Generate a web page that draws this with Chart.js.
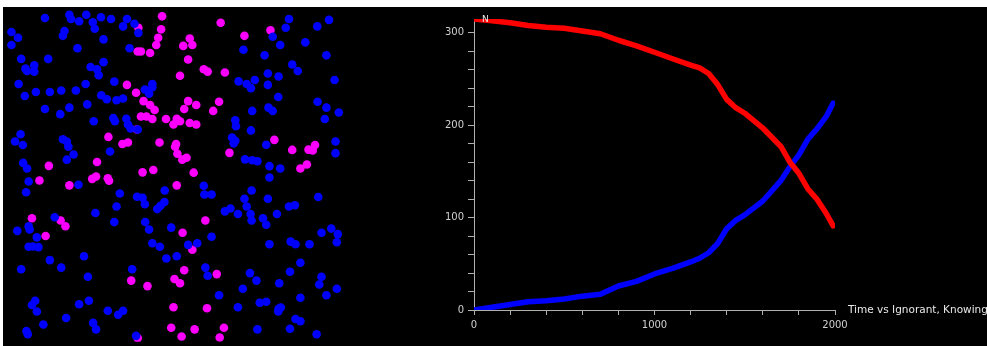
<!DOCTYPE html>
<html lang="en">
<head>
<meta charset="UTF-8">
<title>Rumour spread - Ignorant vs Knowing</title>
<script src="https://cdn.jsdelivr.net/npm/chart.js"></script>
<style>
  html, body { margin: 0; padding: 0; background: #000; overflow: hidden; }
  body { width: 987px; height: 346px; position: relative; }
  #topStrip { position: absolute; left: 0; top: 0; width: 987px; height: 7px; background: #fff; z-index: 5; }
  #leftStrip { position: absolute; left: 0; top: 0; width: 3px; height: 346px; background: #fff; z-index: 5; }
  #dotsWrap { position: absolute; left: 0; top: 0; width: 360px; height: 346px; }
  #lineWrap { position: absolute; left: 400px; top: 7px; width: 587px; height: 339px; }
</style>
</head>
<body>
<div id="topStrip"></div>
<div id="leftStrip"></div>
<div id="dotsWrap"><canvas id="chartDots"></canvas></div>
<div id="lineWrap"><canvas id="chartLines"></canvas></div>

<script>
// time series: counts of ignorant / knowing people
const times    = [0, 100, 200, 300, 400, 500, 600, 700, 800, 900, 1000, 1100, 1200, 1250, 1300, 1350, 1400, 1450, 1500, 1600, 1700, 1750, 1800, 1850, 1900, 1950, 1990];
const ignorant = [315, 313, 311, 308, 306, 305, 302, 299, 292, 286, 279, 272, 265, 262, 256, 244, 228, 219, 213, 197, 177, 160, 148, 131, 120, 105, 91];
const knowing  = [0, 3, 6, 9, 10, 12, 15, 17, 26, 31, 39, 45, 52, 56, 62, 72, 88, 97, 103, 118, 140, 155, 168, 185, 196, 209, 224];

// snapshot of the population (world units, y downwards)
const knowingDots = [
  [125,42],[200,32],[205,45],[230,52],[252,32],[272,55],[297,40],[328,45],[377,45],[365,68],[278,75],[400,60],[185,82],[180,97],
  [22,85],[42,103],[22,125],[305,108],[225,135],[385,135],[412,88],[875,45],[998,48],[962,68],[865,72],[825,100],[848,125],
  [925,117],[735,140],[800,157],[990,157],
  [52,168],[135,168],[65,198],[70,205],[92,188],[92,207],[265,193],[285,200],[290,218],[305,178],[885,185],[902,205],[810,213],
  [843,222],[720,237],[745,245],[770,233],[758,258],[1015,233],[44,245],[250,245],[338,238],[455,245],
  [63,282],[97,270],[140,270],[175,265],[220,265],[298,280],[315,292],[345,295],[365,290],[432,262],[445,275],[455,255],
  [810,248],[842,285],[963,300],[990,318],[1028,333],[125,322],[172,338],[200,318],[255,308],[762,328],[812,318],[825,328],
  [275,360],[335,350],[340,360],[375,352],[985,353],[710,357],
  [380,370],[388,382],[410,385],[712,375],[700,410],[710,420],[705,428],[758,388],[33,422],[50,400],[57,433],[180,415],
  [192,422],[197,438],[213,462],[192,478],[325,453],[805,432],[1018,422],[1018,458],[740,477],[762,480],[778,483],
  [58,488],[70,505],[75,545],[67,578],[228,555],[355,582],[408,592],[425,595],[493,573],[613,558],[615,585],[637,585],
  [815,498],[848,505],[815,533],[760,573],[738,598],[810,598],[965,593],
  [432,615],[470,630],[480,620],[492,608],[345,622],[280,642],[155,655],[338,670],[433,670],[445,693],[513,687],[678,637],
  [695,628],[718,645],[745,622],[757,645],[760,665],[795,658],[805,678],[838,645],[875,622],[893,618],[40,697],[75,683],
  [78,693],[100,717],[637,715],[975,703],[1005,690],[1025,707],[1022,732],
  [75,746],[88,745],[105,747],[455,735],[478,746],[565,740],[593,735],[498,782],[530,775],[245,775],[140,787],[52,815],
  [175,810],[257,838],[393,815],[618,810],[625,835],[815,738],[880,730],[895,738],[938,738],[910,795],[878,823],[755,827],
  [733,875],[775,850],[845,858],[975,838],[968,862],[1022,875],[990,895],
  [660,895],[718,932],[785,918],[805,915],[843,937],[850,933],[910,903],[842,945],[895,968],[910,975],[960,1015],[878,998],
  [778,1000],[95,912],[85,925],[100,945],[120,985],[190,965],[230,923],[260,912],[318,943],[350,955],[365,943],[273,980],
  [282,1000],[68,1005],[72,1015],[405,1020]
];
const ignorantDots = [
  [485,37],[665,57],[412,72],[482,77],[473,103],[738,97],[818,80],[467,125],[550,128],[570,105],[578,125],[410,145],[420,145],
  [448,150],[565,170],
  [540,220],[613,200],[625,207],[678,210],[377,248],
  [405,272],[428,298],[448,310],[462,325],[565,298],[590,310],[660,300],[553,322],[642,328],[420,345],[437,345],[455,353],
  [497,353],[520,370],[530,352],[540,360],[570,365],[590,370],
  [408,385],[320,408],[363,430],[380,425],[477,425],[525,438],[528,430],[532,460],[547,478],[560,472],[692,457],[830,417],
  [885,448],[935,447],[948,450],[955,433],
  [137,497],[108,542],[200,557],[285,485],[270,537],[282,530],[318,535],[322,543],[425,517],[458,510],[530,557],[582,518],
  [910,505],[930,493],
  [85,658],[173,665],[188,683],[127,713],[618,665],[548,703],
  [578,755],[553,818],[653,830],[390,850],[440,867],[523,845],[540,858],
  [520,932],[623,935],[513,995],[545,1022],[585,1000],[675,995],[662,1025],[410,1027]
];

const FONT = 'DejaVu Sans, Verdana, sans-serif';

// population snapshot
new Chart(document.getElementById('chartDots'), {
  type: 'scatter',
  data: {
    datasets: [
      { label: 'Knowing', data: knowingDots.map(p => ({ x: p[0], y: p[1] })), backgroundColor: '#0000ff', borderWidth: 0, pointRadius: 4.3 },
      { label: 'Ignorant', data: ignorantDots.map(p => ({ x: p[0], y: p[1] })), backgroundColor: '#ff00ff', borderWidth: 0, pointRadius: 4.3 }
    ]
  },
  options: {
    responsive: true, maintainAspectRatio: false, animation: false,
    layout: { padding: 0 },
    plugins: { legend: { display: false }, tooltip: { enabled: false } },
    scales: {
      x: { display: false, min: 0, max: 1080 },
      y: { display: false, min: 0, max: 1038, reverse: true }
    }
  }
});

// axis captions drawn next to the plot
const captions = {
  id: 'captions',
  afterDraw(chart) {
    const { ctx, chartArea } = chart;
    ctx.save();
    ctx.fillStyle = '#e8e8e8';
    ctx.font = '9px ' + FONT;
    ctx.textBaseline = 'middle';
    ctx.fillText('N', chartArea.left + 8, chartArea.top + 1);
    ctx.font = '10.5px ' + FONT;
    ctx.fillText('Time vs Ignorant, Knowing', chartArea.right + 13, chartArea.bottom);
    ctx.restore();
  }
};

const keepSteps = step => scale => { scale.ticks = scale.ticks.filter(t => t.value % step === 0); };

new Chart(document.getElementById('chartLines'), {
  type: 'line',
  data: {
    datasets: [
      { label: 'Ignorant', data: times.map((t, i) => ({ x: t, y: ignorant[i] })), borderColor: '#ff0000', borderWidth: 5.5,
        pointRadius: 0, borderCapStyle: 'round', borderJoinStyle: 'round', fill: false },
      { label: 'Knowing', data: times.map((t, i) => ({ x: t, y: knowing[i] })), borderColor: '#0000ff', borderWidth: 5.5,
        pointRadius: 0, borderCapStyle: 'round', borderJoinStyle: 'round', fill: false }
    ]
  },
  options: {
    responsive: true, maintainAspectRatio: false, animation: false,
    layout: { padding: { top: 12, right: 152, left: 0, bottom: 0 } },
    plugins: { legend: { display: false }, tooltip: { enabled: false } },
    scales: {
      x: {
        type: 'linear', min: 0, max: 2000,
        afterFit(scale) { scale.height = 36; },
        afterBuildTicks: keepSteps(200),
        border: { color: '#b0b0b0', width: 1 },
        grid: { drawOnChartArea: false, color: '#b0b0b0', tickLength: 5 },
        ticks: { stepSize: 200, color: '#d0d0d0', font: { family: FONT, size: 10 }, padding: 4, maxRotation: 0,
                 autoSkip: false, callback: v => (v % 1000 === 0 ? v : '') }
      },
      y: {
        min: 0, max: 315,
        afterFit(scale) { scale.width = 74; },
        afterBuildTicks: keepSteps(20),
        border: { color: '#b0b0b0', width: 1 },
        grid: { drawOnChartArea: false, color: '#b0b0b0', tickLength: 6 },
        ticks: { stepSize: 20, color: '#d0d0d0', font: { family: FONT, size: 10 }, padding: 4,
                 autoSkip: false, callback: v => (v % 100 === 0 ? v : '') }
      }
    }
  },
  plugins: [captions]
});
</script>
</body>
</html>
